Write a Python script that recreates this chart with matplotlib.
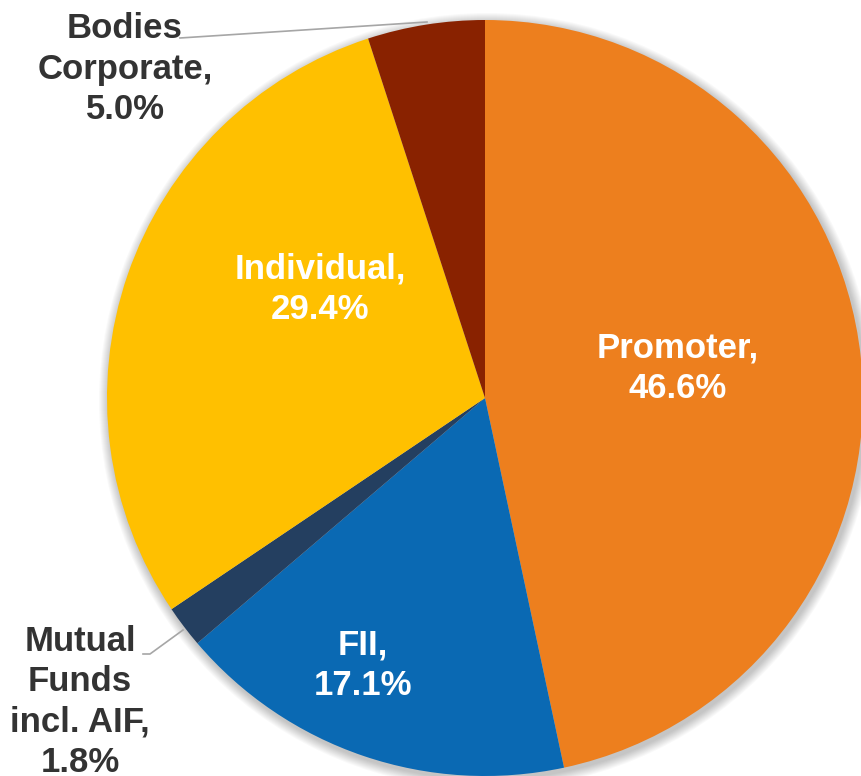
import matplotlib.pyplot as plt
from matplotlib.patches import Circle

# shareholding pattern
categories = ['Promoter', 'FII', 'Mutual\nFunds\nincl. AIF', 'Individual', 'Bodies\nCorporate']
shares = [46.6, 17.1, 1.8, 29.4, 5.0]
colors = ['#ED7F1E', '#0A69B3', '#243F60', '#FFC000', '#892200']

plt.rcParams['font.family'] = ['Liberation Sans', 'DejaVu Sans']

W, H = 862, 776
fig = plt.figure(figsize=(W / 100, H / 100), dpi=100)
ax = fig.add_axes([0, 0, 1, 1])

cx, cy, R = 485, H - 398, 378

# soft drop shadow
for k in range(10):
    ax.add_patch(Circle((cx + 2, cy - 3), R + 10 - k, color='black',
                        alpha=0.025, lw=0, zorder=0))

wedges, _ = ax.pie(shares, colors=colors, startangle=90, counterclock=False,
                   center=(cx, cy), radius=R, frame=True,
                   wedgeprops=dict(linewidth=0))
ax.set_xlim(0, W)
ax.set_ylim(0, H)
ax.set_aspect('equal')
ax.axis('off')

# label placement (pixel coords, top-left origin)
inside = {0: (678, 368), 1: (363, 665), 3: (320, 289)}
outside = {2: (80, 702), 4: (125, 69)}
fs = 25

for i, (name, val) in enumerate(zip(categories, shares)):
    txt = f'{name},\n{val:.1f}%'
    if i in inside:
        x, y = inside[i]
        col = 'white'
    else:
        x, y = outside[i]
        col = '#333333'
    ax.text(x, H - y, txt, ha='center', va='center', color=col,
            fontsize=fs, fontweight='bold', linespacing=1.28)

# leader lines
ax.plot([180, 427], [H - 38, H - 22], color='#a6a6a6', lw=1.2, zorder=5)
ax.plot([143, 150, 183], [H - 654, H - 654, H - 630], color='#a6a6a6', lw=1.2, zorder=5)

fig.savefig('out.png', dpi=100)
